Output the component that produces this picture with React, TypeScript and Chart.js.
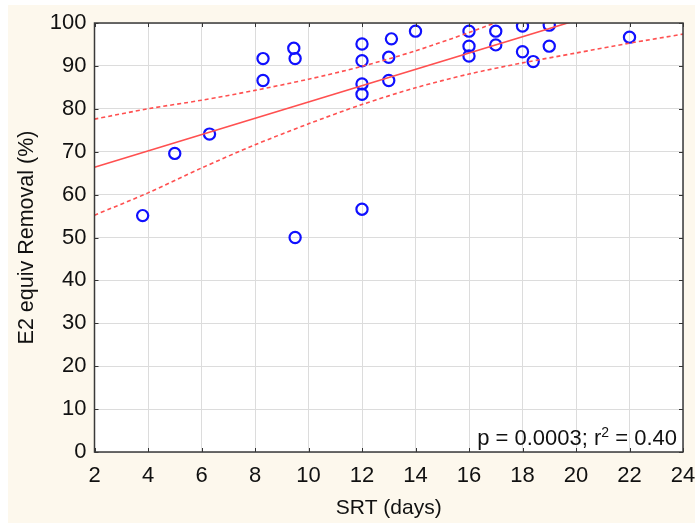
import React, { useEffect, useRef } from "react";
import { Chart, registerables } from "chart.js";

Chart.register(...registerables);

// Observed data: SRT (days) vs E2 equiv removal (%)
const srtDays = [3.8, 5.0, 6.3, 8.3, 8.3, 9.45, 9.5, 9.5, 12, 12, 12, 12, 12, 13.0, 13.1, 13.0, 14, 16, 16, 16, 17, 17, 18, 18, 18.4, 19, 19, 22];
const removalPct = [55.1, 69.6, 74.1, 91.7, 86.6, 94.1, 91.7, 50.0, 95.1, 91.2, 85.8, 83.4, 56.6, 92.0, 96.3, 86.6, 98.1, 98.1, 94.6, 92.3, 98.1, 94.9, 99.3, 93.3, 91.0, 99.5, 94.6, 96.7];

// Fitted regression line
const fitX = [2, 24];
const fitY = [66.4, 108.2];

// Confidence band
const bandX = [2, 4, 6, 8, 10, 12, 14, 16, 18, 20, 22, 24];
const bandLower = [55.2, 60.4, 66.2, 71.6, 76.5, 81.0, 84.9, 88.1, 90.7, 93.0, 95.3, 97.4];
const bandUpper = [77.6, 80.0, 82.0, 84.3, 86.9, 89.9, 93.5, 97.8, 102.5, 108.0, 113.5, 119.0];

const xTicks = [2, 4, 6, 8, 10, 12, 14, 16, 18, 20, 22, 24];
const yTicks = [0, 10, 20, 30, 40, 50, 60, 70, 80, 90, 100];

const xTitle = "SRT (days)";
const yTitle = "E2 equiv Removal (%)";
const statText1 = "p = 0.0003; r";
const statSup = "2";
const statText2 = " = 0.40";

const FONT = "'Liberation Sans', Arial, sans-serif";

const bgPlugin = {
  id: "bgPlugin",
  beforeDraw(chart: any) {
    const { ctx, chartArea } = chart;
    ctx.save();
    ctx.fillStyle = "#ffffff";
    ctx.fillRect(0, 0, chart.width, chart.height);
    ctx.fillStyle = "#fdf8ed";
    ctx.fillRect(8, 5, chart.width - 8, chart.height - 7);
    ctx.fillStyle = "#ffffff";
    ctx.fillRect(chartArea.left, chartArea.top, chartArea.right - chartArea.left, chartArea.bottom - chartArea.top);
    ctx.restore();
  },
};

const framePlugin = {
  id: "framePlugin",
  afterDatasetsDraw(chart: any) {
    const { ctx, chartArea, scales } = chart;
    const { left, right, top, bottom } = chartArea;
    ctx.save();
    // inner ticks
    ctx.strokeStyle = "#333";
    ctx.lineWidth = 1;
    ctx.beginPath();
    xTicks.forEach((v) => {
      const px = Math.round(scales.x.getPixelForValue(v)) + 0.5;
      ctx.moveTo(px, bottom);
      ctx.lineTo(px, bottom - 4);
      ctx.moveTo(px, top);
      ctx.lineTo(px, top + 4);
    });
    yTicks.forEach((v) => {
      const py = Math.round(scales.y.getPixelForValue(v)) + 0.5;
      ctx.moveTo(left, py);
      ctx.lineTo(left + 4, py);
      ctx.moveTo(right, py);
      ctx.lineTo(right - 4, py);
    });
    ctx.stroke();
    // frame
    ctx.strokeStyle = "#3a3a3a";
    ctx.lineWidth = 1.5;
    ctx.strokeRect(left, top, right - left, bottom - top);
    // stats text
    ctx.fillStyle = "#111";
    ctx.textBaseline = "alphabetic";
    ctx.textAlign = "left";
    const mainFont = `22px ${FONT}`;
    const supFont = `14px ${FONT}`;
    ctx.font = mainFont;
    const w1 = ctx.measureText(statText1).width;
    const w3 = ctx.measureText(statText2).width;
    ctx.font = supFont;
    const w2 = ctx.measureText(statSup).width;
    const xEnd = right - 6;
    const base = bottom - 7;
    let x = xEnd - (w1 + w2 + w3);
    ctx.font = mainFont;
    ctx.fillText(statText1, x, base);
    x += w1;
    ctx.font = supFont;
    ctx.fillText(statSup, x, base - 8);
    x += w2;
    ctx.font = mainFont;
    ctx.fillText(statText2, x, base);
    ctx.restore();
  },
};

export default function App() {
  const ref = useRef<HTMLCanvasElement | null>(null);

  useEffect(() => {
    if (!ref.current) return;
    const red = "#ff5050";
    const chart = new Chart(ref.current, {
      type: "scatter",
      data: {
        datasets: [
          {
            type: "line",
            data: bandX.map((x, i) => ({ x, y: bandUpper[i] })),
            borderColor: red,
            borderWidth: 1.6,
            borderDash: [4, 3],
            pointRadius: 0,
            fill: false,
            tension: 0.3,
          } as any,
          {
            type: "line",
            data: bandX.map((x, i) => ({ x, y: bandLower[i] })),
            borderColor: red,
            borderWidth: 1.6,
            borderDash: [4, 3],
            pointRadius: 0,
            fill: false,
            tension: 0.3,
          } as any,
          {
            type: "line",
            data: fitX.map((x, i) => ({ x, y: fitY[i] })),
            borderColor: red,
            borderWidth: 1.6,
            pointRadius: 0,
            fill: false,
          } as any,
          {
            data: srtDays.map((x, i) => ({ x, y: removalPct[i] })),
            pointStyle: "circle",
            pointRadius: 5.6,
            pointBorderWidth: 2.2,
            pointBorderColor: "#1010ff",
            pointBackgroundColor: "rgba(0,0,0,0)",
            showLine: false,
          } as any,
        ],
      },
      options: {
        animation: false,
        responsive: false,
        maintainAspectRatio: false,
        layout: { padding: { left: 0, right: 12, top: 23, bottom: 0 } },
        plugins: { legend: { display: false }, tooltip: { enabled: false } },
        scales: {
          x: {
            type: "linear",
            min: 2,
            max: 24,
            afterBuildTicks: (s: any) => {
              s.ticks = xTicks.map((v) => ({ value: v }));
            },
            afterFit: (s: any) => {
              s.height = 73;
              s.paddingLeft = 0;
              s.paddingRight = 0;
            },
            grid: { color: "#dcdcdc", lineWidth: 1, drawTicks: false },
            border: { display: false },
            ticks: { padding: 11, color: "#111", font: { family: FONT, size: 22 }, maxRotation: 0 },
            title: {
              display: true,
              text: xTitle,
              color: "#111",
              font: { family: FONT, size: 21 },
              padding: { top: 0, bottom: 4 },
            },
          },
          y: {
            type: "linear",
            min: 0,
            max: 100,
            afterBuildTicks: (s: any) => {
              s.ticks = yTicks.map((v) => ({ value: v }));
            },
            afterFit: (s: any) => {
              s.width = 94.5;
              s.paddingTop = 0;
              s.paddingBottom = 0;
            },
            grid: { color: "#dcdcdc", lineWidth: 1, drawTicks: false },
            border: { display: false },
            ticks: { padding: 8, color: "#111", font: { family: FONT, size: 22 } },
            title: {
              display: true,
              text: yTitle,
              color: "#111",
              font: { family: FONT, size: 21.5 },
              padding: { top: 14, bottom: 0 },
            },
          },
        },
      },
      plugins: [bgPlugin, framePlugin],
    });
    return () => chart.destroy();
  }, []);

  return (
    <div style={{ position: "absolute", left: 0, top: 0, width: 695, height: 525 }}>
      <canvas ref={ref} width={695} height={525} style={{ display: "block", width: 695, height: 525 }} />
    </div>
  );
}
